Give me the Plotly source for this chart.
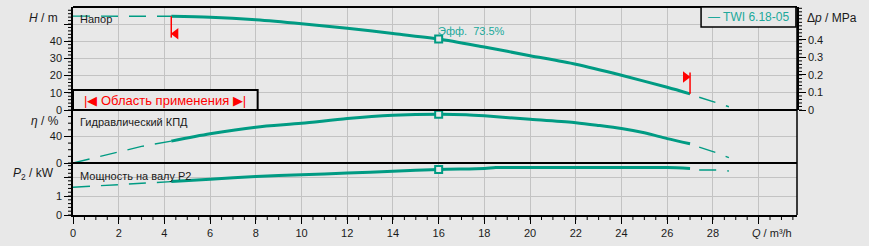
import plotly.graph_objects as go

# ---------------- data ----------------
# Head curve (Q in m³/h, H in m)
q_head = [4.3, 6, 8, 10, 12, 14, 16, 18, 20, 22, 24, 26, 27]
head = [54.5, 54.0, 52.5, 50.2, 47.5, 44.5, 41.3, 36.6, 31.6, 26.6, 20.2, 13.2, 9.4]
q_head_lo = [0, 4.3]
head_lo = [54.6, 54.5]
q_head_hi = [27.4, 28.2, 28.7]
head_hi = [7.4, 3.9, 1.9]

# Hydraulic efficiency (%)
q_eff = [4.3, 6, 8, 10, 12, 14, 16, 17.2, 18, 20, 22, 23, 24, 25, 26, 27]
eff = [33.0, 44.0, 54.0, 59.8, 67.0, 71.8, 73.5, 72.8, 71.2, 65.8, 60.8, 56.7, 52.0, 45.5, 36.8, 29.1]
q_eff_lo = [0, 2, 3, 4.3]
eff_lo = [0, 17.3, 25.0, 33.0]
q_eff_hi = [27.4, 28.2, 28.7]
eff_hi = [24.0, 14.9, 8.0]

# Shaft power P2 (kW)
q_pow = [4.3, 6, 8, 10, 12, 14, 16, 18, 18.5, 20, 22, 24, 26, 27]
power = [1.76, 1.89, 2.03, 2.12, 2.21, 2.30, 2.40, 2.45, 2.50, 2.50, 2.50, 2.50, 2.50, 2.45]
q_pow_lo = [0, 2, 4.3]
pow_lo = [1.46, 1.60, 1.76]
q_pow_hi = [27.4, 28.2, 28.7]
pow_hi = [2.37, 2.37, 2.32]

duty_q = 16
duty_h = 41.3
duty_eff = 73.5
duty_p = 2.40
op_range = [4.3, 27]

x_ticks = [0, 2, 4, 6, 8, 10, 12, 14, 16, 18, 20, 22, 24, 26, 28, 30]
x_labels = ["0", "2", "4", "6", "8", "10", "12", "14", "16", "18", "20", "22", "24", "26", "28", " "]
h_ticks = [0, 10, 20, 30, 40, 50]
h_labels = ["0", "10", "20", "30", "40", " "]
dp_ticks = [0, 0.1, 0.2, 0.3, 0.4]
dp_labels = ["0", "0.1", "0.2", "0.3", "0.4"]
eff_ticks = [0, 40]
eff_labels = ["0", "40"]
p_ticks = [0, 1, 2]
p_labels = ["0", "1", " "]
# minor tick steps
x_minor, h_minor, dp_minor, eff_minor, p_minor = 0.5, 2, 0.02, 10, 0.2

pump_name = "TWI 6.18-05"

# ---------------- style ----------------
TEAL = "#009b83"
TEXT_TEAL = "#20a89b"
BG = "#e8e8e8"
GRID = "#c3c3c3"
FONT = "Liberation Sans, Arial, sans-serif"
TXT = "#1a1a1a"
RED = "#ff0000"

H_MAX = 59.9
RHO_G = 0.00980665
EFF_MAX = 79.9
P_MAX = 2.74
X_MAX = 31.68

D_TOP = (0.5048, 1.0)
D_MID = (0.25, 0.5048)
D_BOT = (0.0, 0.25)

fig = go.Figure()

def add_curve(qs, vals, yax, solid):
    fig.add_trace(go.Scatter(
        x=qs, y=vals, yaxis=yax, mode="lines", hoverinfo="skip",
        line=dict(color=TEAL, width=3 if solid else 1.4,
                  dash="solid" if solid else "17px,11px",
                  shape="spline" if solid else "linear",
                  smoothing=0.8 if solid else None),
        showlegend=False))

add_curve(q_head_lo, head_lo, "y", False)
add_curve(q_head, head, "y", True)
add_curve(q_head_hi, head_hi, "y", False)
add_curve(q_eff_lo, eff_lo, "y3", False)
add_curve(q_eff, eff, "y3", True)
add_curve(q_eff_hi, eff_hi, "y3", False)
add_curve(q_pow_lo, pow_lo, "y4", False)
add_curve(q_pow, power, "y4", True)
add_curve(q_pow_hi, pow_hi, "y4", False)

# invisible trace so the pressure axis is drawn
fig.add_trace(go.Scatter(x=[0], y=[0], yaxis="y2", mode="markers",
                         marker=dict(size=1, color="rgba(0,0,0,0)"),
                         hoverinfo="skip", showlegend=False))

# duty point markers
for yv, ax in [(duty_h, "y"), (duty_eff, "y3"), (duty_p, "y4")]:
    fig.add_trace(go.Scatter(x=[duty_q], y=[yv], yaxis=ax, mode="markers",
                             marker=dict(symbol="square", size=7, color=BG,
                                         line=dict(color=TEAL, width=2)),
                             hoverinfo="skip", showlegend=False))

# operating range flags
h_start = head[0]
h_end = head[-1]
fig.add_trace(go.Scatter(x=[op_range[0], op_range[0]], y=[h_start, h_start - 12.4], yaxis="y",
                         mode="lines", line=dict(color=RED, width=1.5),
                         hoverinfo="skip", showlegend=False))
fig.add_trace(go.Scatter(x=[op_range[0] + 0.2], y=[h_start - 10.1], yaxis="y", mode="markers",
                         marker=dict(symbol="triangle-left", size=10, color=RED),
                         hoverinfo="skip", showlegend=False))
fig.add_trace(go.Scatter(x=[op_range[1], op_range[1]], y=[h_end, h_end + 12.4], yaxis="y",
                         mode="lines", line=dict(color=RED, width=1.5),
                         hoverinfo="skip", showlegend=False))
fig.add_trace(go.Scatter(x=[op_range[1] - 0.2], y=[h_end + 9.8], yaxis="y", mode="markers",
                         marker=dict(symbol="triangle-right", size=10, color=RED),
                         hoverinfo="skip", showlegend=False))

tickfont = dict(family=FONT, size=11, color=TXT)

def major(vals, labels, grid=True):
    return dict(tickmode="array", tickvals=vals, ticktext=labels,
                showgrid=grid, gridcolor=GRID, gridwidth=1, zeroline=False,
                ticks="outside", ticklen=7, tickcolor="black", tickwidth=1,
                showline=True, linecolor="black", linewidth=1.5, tickfont=tickfont)

fig.update_layout(
    width=869, height=246,
    margin=dict(l=73, r=72, t=7, b=31),
    paper_bgcolor=BG, plot_bgcolor=BG,
    font=dict(family=FONT, size=11, color=TXT),
    showlegend=False,
    xaxis=dict(domain=[0, 1], anchor="y4", range=[0, X_MAX], **major(x_ticks, x_labels)),
    yaxis=dict(domain=list(D_TOP), anchor="x", range=[0, H_MAX], **major(h_ticks, h_labels)),
    yaxis2=dict(overlaying="y", side="right", anchor="x", range=[0, H_MAX * RHO_G],
                **major(dp_ticks, dp_labels, grid=False)),
    yaxis3=dict(domain=list(D_MID), anchor="x", range=[0, EFF_MAX], **major(eff_ticks, eff_labels)),
    yaxis4=dict(domain=list(D_BOT), anchor="x", range=[0, P_MAX], **major(p_ticks, p_labels)),
)

# minor tick marks, generated from the axis ranges and steps (paper/axis-domain coordinates)
shapes = []
def frange(step, top):
    n = int(round(top / step + 1e-9))
    return [i * step for i in range(n + 1) if i * step <= top + 1e-9]

def tick_shape(xref, yref, x0, x1, y0, y1):
    return dict(type="line", xref=xref, yref=yref, x0=x0, x1=x1, y0=y0, y1=y1,
                line=dict(color="black", width=1), layer="above")

PLOT_W = 869 - 73 - 72
PLOT_H = 246 - 7 - 31
TL = 5  # minor tick length in px
for v in frange(x_minor, X_MAX):
    shapes.append(tick_shape("x", "paper", v, v, 0, -TL / PLOT_H))
for v in frange(h_minor, H_MAX):
    shapes.append(tick_shape("paper", "y", 0, -TL / PLOT_W, v, v))
for v in frange(dp_minor, H_MAX * RHO_G):
    shapes.append(tick_shape("paper", "y2", 1, 1 + TL / PLOT_W, v, v))
for v in frange(eff_minor, EFF_MAX):
    shapes.append(tick_shape("paper", "y3", 0, -TL / PLOT_W, v, v))
for v in frange(p_minor, P_MAX):
    shapes.append(tick_shape("paper", "y4", 0, -TL / PLOT_W, v, v))

# frame lines
shapes += [
    dict(type="line", xref="paper", yref="paper", x0=0, x1=1, y0=1, y1=1,
         line=dict(color="black", width=2)),
    dict(type="line", xref="paper", yref="paper", x0=1, x1=1, y0=0, y1=1,
         line=dict(color="black", width=1.5)),
    dict(type="line", xref="paper", yref="paper", x0=0, x1=1, y0=D_TOP[0], y1=D_TOP[0],
         line=dict(color="black", width=2)),
    dict(type="line", xref="paper", yref="paper", x0=0, x1=1, y0=D_MID[0], y1=D_MID[0],
         line=dict(color="black", width=2)),
    # legend box
    dict(type="rect", xref="paper", yref="paper", x0=0.8675, x1=0.9985, y0=0.904, y1=1.0,
         line=dict(color="black", width=1.5), fillcolor=BG),
    # range box
    dict(type="rect", xref="x", yref="y", x0=0, x1=8.08, y0=0, y1=11.7,
         line=dict(color="black", width=2), fillcolor=BG),
]
fig.update_layout(shapes=shapes)

ann = []
def add_text(text, x, y, xref, yref, xanchor="left", size=11, color=TXT, yanchor="middle"):
    ann.append(dict(text=text, x=x, y=y, xref=xref, yref=yref, xanchor=xanchor,
                    yanchor=yanchor, showarrow=False,
                    font=dict(family=FONT, size=size, color=color)))

add_text("Напор", 0.22, 53.0, "x", "y")
add_text("Гидравлический КПД", 0.22, 62.5, "x", "y3")
add_text("Мощность на валу P2", 0.22, 2.05, "x", "y4")
add_text("Эфф.  " + str(duty_eff) + "%", duty_q - 0.1, 45.8, "x", "y", size=11, color=TEXT_TEAL)
add_text("<i>H</i> / m", -0.0185, 53.3, "paper", "y", xanchor="right", size=12)
add_text("<i>η</i> / %", -0.0165, 64.0, "paper", "y3", xanchor="right", size=12)
add_text("<i>P</i><sub>2</sub> / kW", -0.023, 2.16, "paper", "y4", xanchor="right", size=12)
add_text("Δ<i>p</i> / MPa", 1.011, 53.3, "paper", "y", xanchor="left", size=12)
add_text("<i>Q</i> / m³/h", 0.996, -0.088, "paper", "paper", xanchor="right", size=11)
add_text("— " + pump_name, 0.933, 0.952, "paper", "paper", xanchor="center", size=12, color=TEXT_TEAL)
add_text("|◀ Область применения ▶|", 4.04, 5.7, "x", "y", xanchor="center", size=13, color=RED)

fig.update_layout(annotations=ann)

fig.write_html("out.html")
